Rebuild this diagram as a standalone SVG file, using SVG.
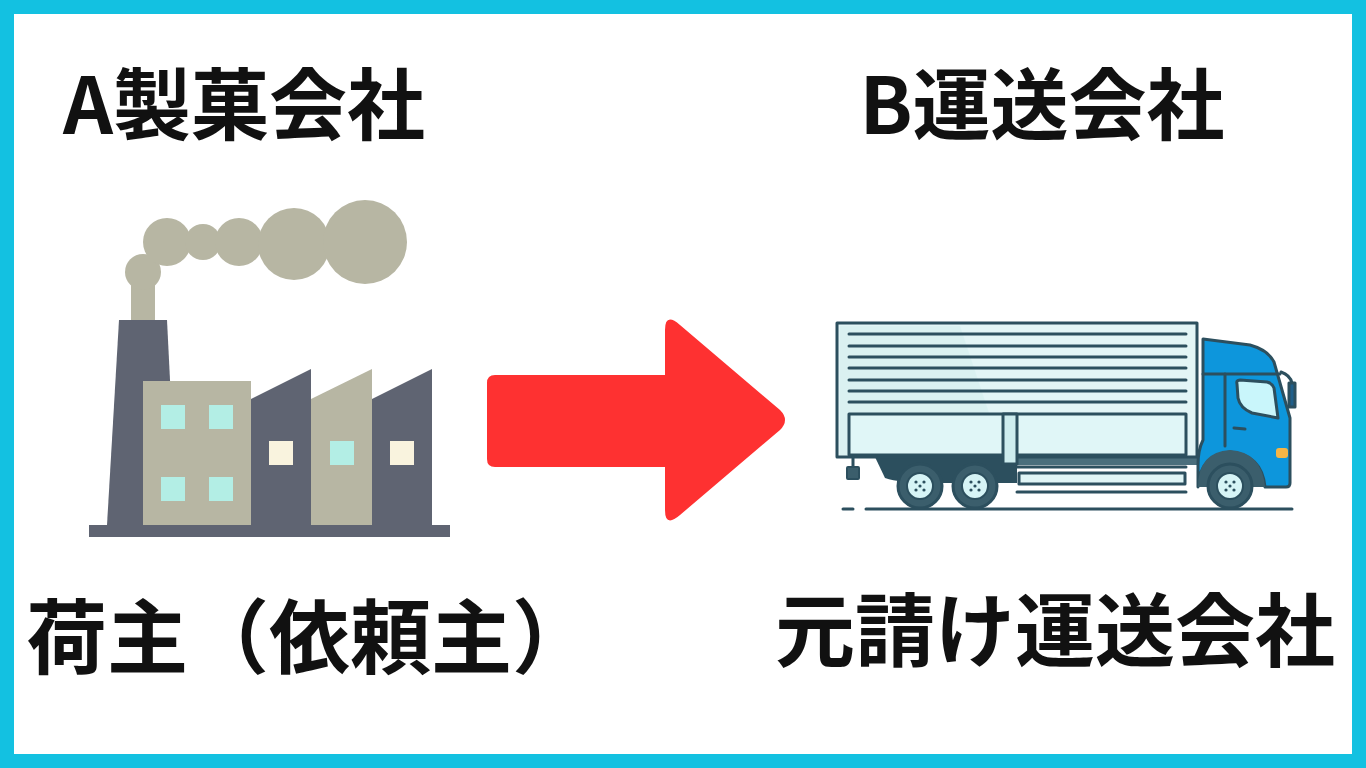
<svg xmlns="http://www.w3.org/2000/svg" width="1366" height="768" viewBox="0 0 1366 768">
<style>
.t{font-family:"Noto Sans CJK JP","Noto Sans",sans-serif;font-weight:700;fill:#111;text-anchor:middle}
.ol{stroke:#2c4f5e;stroke-width:3;stroke-linejoin:round;stroke-linecap:round}
.smoke{fill:#b7b6a3}.dk{fill:#5f6472}.cy{fill:#b3eee5}.cr{fill:#f9f3de}
</style>
<rect x="7" y="7" width="1352" height="754" fill="#fff" stroke="#13c1e1" stroke-width="14"/>
<g id="label-a"><text class="t" x="244" y="134" font-size="78">A製菓会社</text></g>
<g id="label-b"><text class="t" x="1042" y="134" font-size="78">B運送会社</text></g>
<g id="label-shipper"><text class="t" x="26" y="667" font-size="81" style="text-anchor:start">荷主（依頼主）</text></g>
<g id="label-carrier"><text class="t" x="1055" y="660" font-size="80">元請け運送会社</text></g>
<g id="factory">
<rect class="smoke" x="131" y="283" width="24" height="40"/>
<circle class="smoke" cx="143" cy="272" r="18"/>
<circle class="smoke" cx="167" cy="242" r="24"/>
<circle class="smoke" cx="203" cy="242" r="18"/>
<circle class="smoke" cx="239" cy="242" r="24"/>
<circle class="smoke" cx="294" cy="244" r="36"/>
<circle class="smoke" cx="365" cy="242" r="42"/>
<polygon class="dk" points="119,320 167,320 171,400 150,525 107,525"/>
<rect class="smoke" x="143" y="381" width="108" height="144"/>
<polygon class="dk" points="251,399 311,369 311,525 251,525"/>
<polygon class="smoke" points="311,399 372,369 372,525 311,525"/>
<polygon class="dk" points="372,399 432,369 432,525 372,525"/>
<rect class="cy" x="161" y="405" width="24" height="24"/>
<rect class="cy" x="209" y="405" width="24" height="24"/>
<rect class="cy" x="161" y="477" width="24" height="24"/>
<rect class="cy" x="209" y="477" width="24" height="24"/>
<rect class="cr" x="269" y="441" width="24" height="24"/>
<rect class="cy" x="330" y="441" width="24" height="24"/>
<rect class="cr" x="390" y="441" width="24" height="24"/>
<rect class="dk" x="89" y="525" width="361" height="12"/>
</g>
<g id="connectors">
<path d="M495,375 H665 V330 Q665,312 680,325 L780,410 Q790,420 780,430 L680,515 Q665,528 665,510 V467 H495 Q487,467 487,459 V383 Q487,375 495,375 Z" fill="#fe3131"/>
</g>
<g id="truck">
<line class="ol" x1="843" y1="509" x2="853" y2="509"/>
<line class="ol" x1="866" y1="509" x2="1292" y2="509"/>
<path d="M875,457 H1017 V483 H930 Q900,483 885,478 Z" fill="#2c4f5e"/>
<rect x="1017" y="457" width="180" height="8" fill="#4a6e7c"/>
<line class="ol" x1="1017" y1="467" x2="1186" y2="467"/>
<line class="ol" x1="1017" y1="492" x2="1186" y2="492"/>
<rect class="ol" x="1019" y="473" width="166" height="11" fill="#e0f5f6"/>
<rect class="ol" x="837" y="323" width="360" height="134" fill="#e3f5f6"/>
<polygon points="840,326 960,326 1003,455 840,455" fill="#d4eeef" opacity="0.6"/>
<g class="ol">
<line x1="849" y1="334" x2="1186" y2="334"/><line x1="849" y1="346" x2="1186" y2="346"/>
<line x1="849" y1="357" x2="1186" y2="357"/><line x1="849" y1="368" x2="1186" y2="368"/>
<line x1="849" y1="380" x2="1186" y2="380"/><line x1="849" y1="391" x2="1186" y2="391"/>
<line x1="849" y1="402" x2="1186" y2="402"/>
</g>
<rect class="ol" x="849" y="414" width="337" height="41" fill="#e0f6f7"/>
<rect class="ol" x="1003" y="414" width="14" height="50" fill="#cdecee"/>
<line class="ol" x1="853" y1="457" x2="853" y2="467"/>
<rect x="847" y="467" width="12" height="12" rx="1" fill="#3b5e6c" stroke="#2c4f5e" stroke-width="2"/>
<path d="M1203,339 L1250,345 Q1268,350 1274,362 L1290,418 V483 Q1290,487 1286,487 H1265 Q1262,455 1230,452 Q1200,455 1198,487 V465 Q1198,450 1203,440 Z" fill="#0d96dc" class="ol"/>
<path d="M1198,487 Q1198,452 1230,450 Q1262,452 1265,487" fill="#3b5e6c"/>
<line class="ol" x1="1225" y1="374" x2="1225" y2="446"/>
<line class="ol" x1="1203" y1="374" x2="1280" y2="374"/>
<path d="M1237,384 Q1236,380 1240,380 L1267,382 Q1272,383 1274,388 L1278,418 L1252,413 Q1240,408 1238,398 Z" fill="#c9f6fb" class="ol"/>
<line class="ol" x1="1234" y1="428" x2="1245" y2="429"/>
<rect x="1276" y="448" width="12" height="10" rx="3" fill="#f6b545"/>
<path d="M1281,372 Q1290,375 1292,383" fill="none" class="ol"/>
<rect class="ol" x="1289" y="383" width="6" height="24" fill="#1f5f8a"/>
<g fill="#3b5e6c" stroke="#2c4f5e" stroke-width="3">
<circle cx="920" cy="486" r="22"/><circle cx="975" cy="486" r="22"/><circle cx="1230" cy="486" r="22"/>
</g>
<g fill="#d6f4f6" stroke="#2c4f5e" stroke-width="2">
<circle cx="920" cy="486" r="13"/><circle cx="975" cy="486" r="13"/><circle cx="1230" cy="486" r="13"/>
</g>
<g fill="#2c4f5e">
<circle cx="916" cy="482" r="1.6"/><circle cx="924" cy="482" r="1.6"/><circle cx="916" cy="490" r="1.6"/><circle cx="924" cy="490" r="1.6"/><circle cx="920" cy="486" r="1.6"/>
<circle cx="971" cy="482" r="1.6"/><circle cx="979" cy="482" r="1.6"/><circle cx="971" cy="490" r="1.6"/><circle cx="979" cy="490" r="1.6"/><circle cx="975" cy="486" r="1.6"/>
<circle cx="1226" cy="482" r="1.6"/><circle cx="1234" cy="482" r="1.6"/><circle cx="1226" cy="490" r="1.6"/><circle cx="1234" cy="490" r="1.6"/><circle cx="1230" cy="486" r="1.6"/>
</g>
</g>
</svg>
